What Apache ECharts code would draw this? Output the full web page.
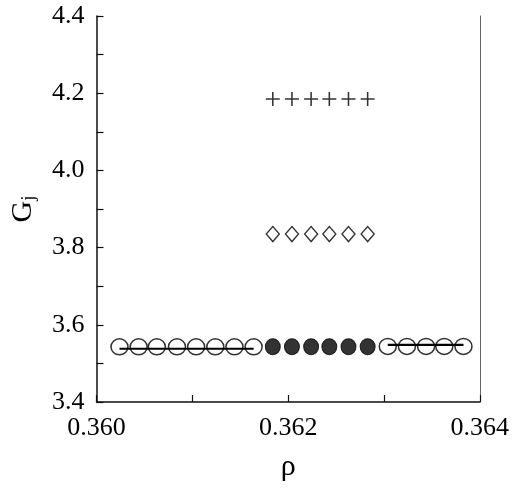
<!DOCTYPE html>
<html><head><meta charset="utf-8">
<script src="https://cdn.jsdelivr.net/npm/echarts@6/dist/echarts.min.js"></script>
<style>html,body{margin:0;padding:0;background:#fff}#c{width:512px;height:488px}</style>
</head><body><div id="c"></div>
<script>
const openLeftX = [0.36024, 0.36044, 0.36063, 0.36084, 0.36104, 0.36124, 0.36144, 0.36164];
const openLeftY = [3.543, 3.543, 3.543, 3.543, 3.543, 3.543, 3.543, 3.543];
const midX = [0.36184, 0.36204, 0.36224, 0.36243, 0.36263, 0.36283];
const filledY = [3.543, 3.543, 3.543, 3.543, 3.543, 3.543];
const diamondY = [3.835, 3.835, 3.835, 3.835, 3.835, 3.835];
const plusY = [4.185, 4.185, 4.185, 4.185, 4.185, 4.185];
const openRightX = [0.36304, 0.36324, 0.36344, 0.36363, 0.36383];
const openRightY = [3.544, 3.544, 3.544, 3.544, 3.544];
const lineLeftX = [0.36024, 0.36164];
const lineLeftY = [3.538, 3.538];
const lineRightX = [0.36304, 0.36383];
const lineRightY = [3.548, 3.548];

const zip = (xs, ys) => xs.map((x, i) => [x, ys[i]]);
const font = 'Liberation Serif';
const axisCol = '#111';

const chart = echarts.init(document.getElementById('c'), null, {renderer: 'canvas'});
chart.setOption({
  animation: false,
  backgroundColor: '#fff',
  textStyle: {fontFamily: font},
  grid: {left: 93, right: 26, top: 16, bottom: 86, containLabel: false},
  xAxis: {
    type: 'value', min: 0.360, max: 0.364, interval: 0.001,
    name: 'ρ', nameLocation: 'middle', nameGap: 50,
    nameTextStyle: {fontFamily: font, fontSize: 30, color: '#000'},
    axisLine: {show: true, lineStyle: {color: axisCol, width: 1.5}},
    axisTick: {show: true, inside: true, length: 7, lineStyle: {color: axisCol, width: 1.2}},
    axisLabel: {
      fontFamily: font, fontSize: 26, color: '#000', margin: 13,
      formatter: v => (Math.round(v * 1000) % 2 === 0 ? '{t|' + v.toFixed(3) + '}' : ''),
      rich: {t: {fontFamily: font, fontSize: 26, color: '#000'}}
    },
    splitLine: {show: false}
  },
  yAxis: [{
    type: 'value', min: 3.4, max: 4.4, interval: 0.1,
    name: '{g|G}{s|j}', nameLocation: 'middle', nameGap: 58, nameRotate: 90,
    nameTextStyle: {
      rich: {
        g: {fontFamily: font, fontSize: 30, color: '#000'},
        s: {fontFamily: font, fontSize: 19, color: '#000', verticalAlign: 'bottom', padding: [12, 0, 0, 0]}
      }
    },
    axisLine: {show: true, lineStyle: {color: axisCol, width: 1.5}},
    axisTick: {show: true, inside: true, length: 7, lineStyle: {color: axisCol, width: 1.2}},
    axisLabel: {
      fontFamily: font, fontSize: 26, color: '#000', margin: 12,
      formatter: v => (Math.round(v * 10) % 2 === 0 ? '{t|' + v.toFixed(1) + '}' : ''),
      rich: {t: {fontFamily: font, fontSize: 26, color: '#000'}}
    },
    splitLine: {show: false}
  }, {
    type: 'value', min: 3.4, max: 4.4, position: 'right',
    axisLine: {show: true, lineStyle: {color: '#666', width: 1}},
    axisTick: {show: false}, axisLabel: {show: false}, splitLine: {show: false}
  }],
  series: [
    {type: 'line', data: zip(lineLeftX, lineLeftY), symbol: 'none', lineStyle: {color: '#000', width: 2.2}, z: 3},
    {type: 'line', data: zip(lineRightX, lineRightY), symbol: 'none', lineStyle: {color: '#000', width: 2.2}, z: 3},
    {type: 'scatter', data: zip(openLeftX, openLeftY), symbol: 'circle', symbolSize: [17, 16],
      itemStyle: {color: 'rgba(0,0,0,0)', borderColor: '#000', borderWidth: 1.5}, z: 4},
    {type: 'scatter', data: zip(openRightX, openRightY), symbol: 'circle', symbolSize: [17, 16],
      itemStyle: {color: 'rgba(0,0,0,0)', borderColor: '#000', borderWidth: 1.5}, z: 4},
    {type: 'scatter', data: zip(midX, filledY), symbol: 'circle', symbolSize: [15, 16],
      itemStyle: {color: '#000', borderColor: '#000', borderWidth: 1}, z: 4},
    {type: 'scatter', data: zip(midX, diamondY), symbol: 'diamond', symbolSize: [13, 15],
      itemStyle: {color: '#fff', borderColor: '#000', borderWidth: 1.4}, z: 4},
    {type: 'scatter', data: zip(midX, plusY),
      symbol: 'path://M6,0 L7.5,0 L7.5,6 L13.5,6 L13.5,7.5 L7.5,7.5 L7.5,13.5 L6,13.5 L6,7.5 L0,7.5 L0,6 L6,6 Z', symbolSize: [14, 14],
      itemStyle: {color: '#000'}, z: 4}
  ]
});
</script></body></html>
